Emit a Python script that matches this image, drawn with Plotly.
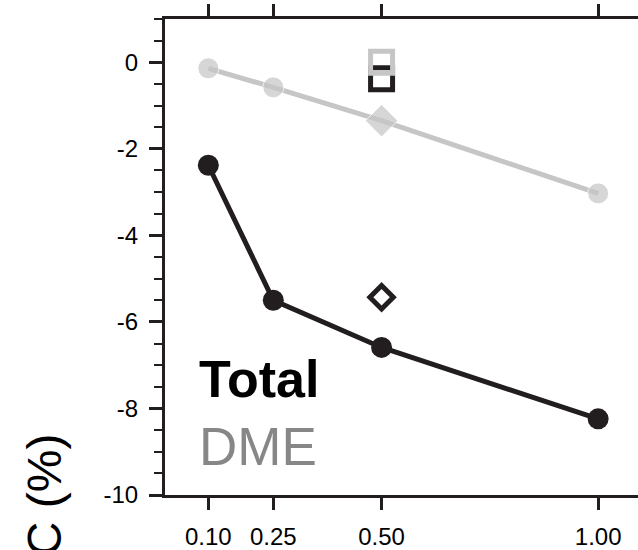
import plotly.graph_objects as go

# ---- data ----
x_vals = [0.10, 0.25, 0.50, 1.00]
total_vals = [-2.38, -5.50, -6.59, -8.24]
dme_vals = [-0.14, -0.58, -1.35, -3.03]
dme_symbols = ["circle", "circle", "diamond", "circle"]
dme_sizes = [21, 21, 25, 21]

extra_x = [0.50]
total_open_diamond = [-5.43]
total_open_square = [-0.38]
dme_open_square = [0.0]

x_ticks = [0.10, 0.25, 0.50, 1.00]
x_ticklabels = ["0.10", "0.25", "0.50", "1.00"]
y_ticks = [0, -2, -4, -6, -8, -10]
y_ticklabels = ["0", "-2", "-4", "-6", "-8", "-10"]

BLACK = "#221e1f"
GRAY = "#c6c6c6"
GRAY_TEXT = "#878787"
FONT = "Liberation Sans, Arial, sans-serif"

fig = go.Figure()

fig.add_trace(go.Scatter(
    x=x_vals, y=dme_vals, mode="lines+markers",
    line=dict(color=GRAY, width=5),
    marker=dict(color=GRAY, size=dme_sizes, symbol=dme_symbols),
    showlegend=False, cliponaxis=False))

fig.add_trace(go.Scatter(
    x=x_vals, y=total_vals, mode="lines+markers",
    line=dict(color=BLACK, width=5),
    marker=dict(color=BLACK, size=21, symbol="circle"),
    showlegend=False, cliponaxis=False))

fig.add_trace(go.Scatter(
    x=extra_x, y=total_open_diamond, mode="markers",
    marker=dict(symbol="diamond-open", size=18, color=BLACK,
                line=dict(width=5, color=BLACK)),
    showlegend=False, cliponaxis=False))

fig.add_trace(go.Scatter(
    x=extra_x, y=total_open_square, mode="markers",
    marker=dict(symbol="square-open", size=22, color=BLACK,
                line=dict(width=5, color=BLACK)),
    showlegend=False, cliponaxis=False))

fig.add_trace(go.Scatter(
    x=extra_x, y=dme_open_square, mode="markers",
    marker=dict(symbol="square-open", size=22, color=GRAY,
                line=dict(width=5, color=GRAY)),
    showlegend=False, cliponaxis=False))

fig.add_annotation(x=0.073, y=-7.33, xref="x", yref="y", text="<b>Total</b>",
                   showarrow=False, xanchor="left", yanchor="middle",
                   font=dict(family=FONT, size=52, color="#000000"))
fig.add_annotation(x=0.073, y=-8.88, xref="x", yref="y", text="DME",
                   showarrow=False, xanchor="left", yanchor="middle",
                   font=dict(family=FONT, size=53, color=GRAY_TEXT))

fig.add_annotation(x=-0.256, y=0.135, xref="paper", yref="paper", text="C (%)",
                   textangle=-90, showarrow=False, xanchor="center", yanchor="top",
                   font=dict(family=FONT, size=48, color="#000000"))

fig.update_layout(
    width=638, height=550,
    margin=dict(l=165, r=0, t=19, b=55, pad=0, autoexpand=False),
    paper_bgcolor="white", plot_bgcolor="white",
    font=dict(family=FONT, color="#000000"),
    xaxis=dict(range=[0, 1.092], tickmode="array", tickvals=x_ticks,
               ticktext=x_ticklabels, showgrid=False, zeroline=False,
               showline=True, linecolor=BLACK, linewidth=3, mirror="allticks",
               ticks="outside", ticklen=12, tickwidth=3, tickcolor=BLACK,
               tickfont=dict(size=24, family=FONT, color="#000000"),
               ticklabelstandoff=6, automargin=False),
    yaxis=dict(range=[-10, 1], tickmode="array", tickvals=y_ticks,
               ticktext=y_ticklabels, showgrid=False, zeroline=False,
               showline=True, linecolor=BLACK, linewidth=3,
               ticks="outside", ticklen=13, tickwidth=3, tickcolor=BLACK,
               tickfont=dict(size=24, family=FONT, color="#000000"),
               ticklabelstandoff=6, automargin=False,
               minor=dict(tickmode="linear", tick0=0, dtick=0.5, ticks="outside",
                          ticklen=8, tickwidth=2, tickcolor=BLACK, showgrid=False)),
)

fig.write_html("out.html")
